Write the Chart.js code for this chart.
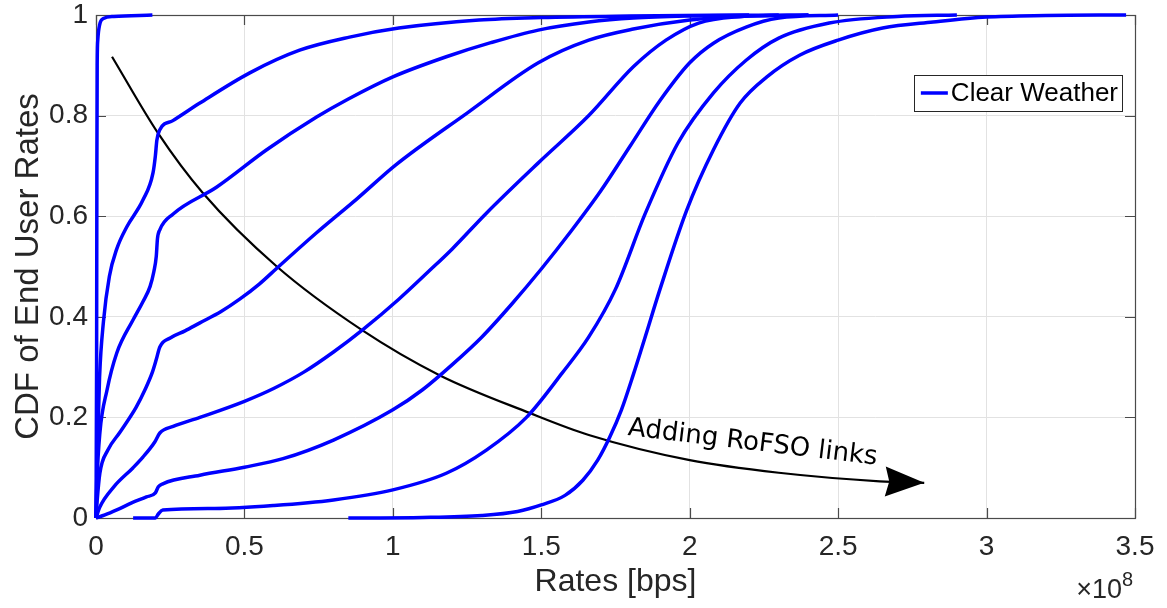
<!DOCTYPE html>
<html>
<head>
<meta charset="utf-8">
<script src="https://cdn.jsdelivr.net/npm/chart.js@4.4.0/dist/chart.umd.min.js"></script>
<style>
  html, body { margin: 0; padding: 0; background: #fff; }
  #wrap { width: 1167px; height: 608px; }
</style>
</head>
<body>
<div id="wrap"><canvas id="cdfChart" width="1167" height="608"></canvas></div>
<script>
// rates are stored in units of 1e8 bps, the axis carries the x10^8 multiplier
const rateTicks = [0, 0.5, 1, 1.5, 2, 2.5, 3, 3.5];
const cdfTicks = [0, 0.2, 0.4, 0.6, 0.8, 1];

// one CDF per number of RoFSO links, [rate, cdf]
const cdf1 = [[0, 0], [0.002, 0.3], [0.003, 0.7], [0.004, 0.9], [0.006, 0.95], [0.012, 0.98],
  [0.025, 0.993], [0.06, 0.997], [0.19, 1]];
const cdf2 = [[0, 0], [0.004, 0.12], [0.012, 0.28], [0.025, 0.39], [0.045, 0.48], [0.07, 0.535],
  [0.104, 0.579], [0.158, 0.632], [0.192, 0.686], [0.2, 0.72], [0.205, 0.751], [0.215, 0.772],
  [0.259, 0.79], [0.35, 0.825], [0.518, 0.885], [0.686, 0.93], [0.854, 0.956], [1.02, 0.974],
  [1.29, 0.99], [1.5, 0.995], [1.8, 0.998], [2.2, 1]];
const cdf3 = [[0, 0], [0.003, 0.07], [0.013, 0.169], [0.037, 0.254], [0.07, 0.328], [0.125, 0.394],
  [0.158, 0.43], [0.182, 0.46], [0.195, 0.49], [0.203, 0.52], [0.207, 0.555], [0.215, 0.573],
  [0.259, 0.604], [0.407, 0.658], [0.575, 0.732], [0.743, 0.797], [0.85, 0.833], [1.0, 0.877],
  [1.18, 0.917], [1.33, 0.945], [1.49, 0.97], [1.66, 0.986], [1.81, 0.994], [2.0, 0.998], [2.3, 1]];
const cdf4 = [[0, 0], [0.004, 0.035], [0.013, 0.089], [0.04, 0.135], [0.08, 0.17], [0.135, 0.22],
  [0.165, 0.255], [0.19, 0.29], [0.203, 0.315], [0.215, 0.34], [0.25, 0.358], [0.3, 0.372],
  [0.35, 0.388], [0.42, 0.41], [0.484, 0.435], [0.55, 0.465], [0.61, 0.497], [0.743, 0.567],
  [0.88, 0.635], [1.01, 0.702], [1.25, 0.805], [1.49, 0.905], [1.66, 0.95], [1.81, 0.972],
  [2.0, 0.99], [2.2, 0.998], [2.4, 1]];
const cdf5 = [[0, 0], [0.013, 0.022], [0.06, 0.062], [0.125, 0.1], [0.158, 0.121], [0.198, 0.151],
  [0.215, 0.169], [0.26, 0.182], [0.35, 0.2], [0.5, 0.232], [0.6, 0.258], [0.7, 0.29],
  [0.8, 0.33], [0.9, 0.375], [1.02, 0.435], [1.12, 0.49], [1.2, 0.535], [1.315, 0.606],
  [1.49, 0.706], [1.66, 0.8], [1.81, 0.897], [1.92, 0.95], [2.03, 0.984], [2.15, 0.996], [2.4, 1]];
const cdf6 = [[0, 0], [0.03, 0.006], [0.07, 0.016], [0.12, 0.03], [0.17, 0.042], [0.2, 0.05],
  [0.21, 0.062], [0.225, 0.068], [0.35, 0.085], [0.5, 0.101], [0.63, 0.118], [0.8, 0.155],
  [1.0, 0.215], [1.1, 0.255], [1.2, 0.305], [1.3, 0.36], [1.4, 0.425], [1.5, 0.495],
  [1.6, 0.57], [1.7, 0.65], [1.8, 0.74], [1.9, 0.83], [2.0, 0.905], [2.08, 0.944],
  [2.19, 0.976], [2.3, 0.994], [2.5, 1]];
const cdf7 = [[0.125, 0], [0.2, 0], [0.21, 0.008], [0.225, 0.016], [0.4, 0.019], [0.6, 0.025],
  [0.8, 0.036], [1.0, 0.056], [1.18, 0.089], [1.315, 0.135], [1.45, 0.2], [1.57, 0.288],
  [1.66, 0.36], [1.75, 0.455], [1.85, 0.605], [1.96, 0.745], [2.08, 0.845],
  [2.19, 0.91], [2.3, 0.954], [2.47, 0.984], [2.7, 0.997], [2.9, 1]];
const cdf8 = [[0.85, 0], [1.1, 0.001], [1.3, 0.005], [1.42, 0.013], [1.5, 0.026], [1.58, 0.045],
  [1.64, 0.075], [1.69, 0.115], [1.73, 0.16], [1.77, 0.215], [1.81, 0.285], [1.85, 0.36],
  [1.9, 0.455], [1.99, 0.612], [2.08, 0.732], [2.17, 0.825], [2.26, 0.877],
  [2.37, 0.92], [2.5, 0.95], [2.65, 0.974], [2.82, 0.986], [3.0, 0.996], [3.2, 0.999], [3.47, 1]];

// trend arrow drawn across the curves
const trendArrow = [[0.054, 0.917], [0.209, 0.765], [0.36, 0.646], [0.609, 0.5], [0.895, 0.374],
  [1.157, 0.284], [1.46, 0.209], [1.66, 0.165], [2.0, 0.115], [2.3, 0.09], [2.64, 0.073], [2.79, 0.07]];

const cdfCurves = [cdf1, cdf2, cdf3, cdf4, cdf5, cdf6, cdf7, cdf8];

const AXIS_FONT = "'Liberation Sans', Arial, Helvetica, sans-serif";
const AXIS_COLOR = '#262626';

const toPoints = arr => arr.map(([x, y]) => ({ x, y }));

const datasets = cdfCurves.map((c, i) => ({
  label: i === 0 ? 'Clear Weather' : 'Clear Weather ' + (i + 1),
  data: toPoints(c),
  borderColor: '#0000ff',
  borderWidth: 3.5,
  pointRadius: 0,
  cubicInterpolationMode: 'monotone',
  clip: 5,
  fill: false
}));
datasets.push({
  label: 'arrow',
  data: toPoints(trendArrow),
  borderColor: '#000000',
  borderWidth: 2.2,
  pointRadius: 0,
  cubicInterpolationMode: 'monotone',
  fill: false
});

// box around the axes with inward tick marks on all four sides
const axesBox = {
  id: 'axesBox',
  beforeDatasetsDraw(chart) {
    const { ctx, chartArea: a, scales: { x, y } } = chart;
    ctx.save();
    ctx.strokeStyle = '#4a4a4a';
    ctx.lineWidth = 1.2;
    ctx.strokeRect(a.left + 0.5, a.top + 0.5, a.right - a.left, a.bottom - a.top);
    ctx.beginPath();
    const len = 10;
    x.ticks.forEach(t => {
      const px = Math.round(x.getPixelForValue(t.value)) + 0.5;
      ctx.moveTo(px, a.bottom); ctx.lineTo(px, a.bottom - len);
      ctx.moveTo(px, a.top); ctx.lineTo(px, a.top + len);
    });
    y.ticks.forEach(t => {
      const py = Math.round(y.getPixelForValue(t.value)) + 0.5;
      ctx.moveTo(a.left, py); ctx.lineTo(a.left + len, py);
      ctx.moveTo(a.right, py); ctx.lineTo(a.right - len, py);
    });
    ctx.stroke();
    ctx.restore();
  }
};

// arrowhead, label on the arrow, legend box and the exponent label
const extras = {
  id: 'extras',
  afterDatasetsDraw(chart) {
    const { ctx, chartArea: a, scales: { x, y } } = chart;
    const arrowMeta = chart.getDatasetMeta(cdfCurves.length);
    const pts = arrowMeta.data;
    const tip = pts[pts.length - 1];
    const prev = pts[pts.length - 2];
    const ang = Math.atan2(tip.y - prev.y, tip.x - prev.x);
    ctx.save();
    ctx.translate(tip.x, tip.y);
    ctx.rotate(ang);
    ctx.fillStyle = '#000';
    ctx.beginPath();
    ctx.moveTo(0, 0);
    ctx.lineTo(-39, -15);
    ctx.lineTo(-35, 0);
    ctx.lineTo(-39, 15);
    ctx.closePath();
    ctx.fill();
    ctx.restore();

    // label along the arrow
    ctx.save();
    ctx.translate(x.getPixelForValue(1.79), y.getPixelForValue(0.165));
    ctx.rotate(6.8 * Math.PI / 180);
    ctx.font = "26px 'DejaVu Sans', sans-serif";
    ctx.fillStyle = '#000';
    ctx.textBaseline = 'alphabetic';
    ctx.textAlign = 'left';
    ctx.fillText('Adding RoFSO links', 0, 0);
    ctx.restore();

    // legend
    const label = chart.data.datasets[0].label;
    ctx.save();
    ctx.font = '26px ' + AXIS_FONT;
    const tw = ctx.measureText(label).width;
    const bw = 7 + 27 + 3 + tw + 4, bh = 36;
    const bx = a.right - 13 - bw, by = a.top + 60;
    ctx.fillStyle = '#fff';
    ctx.fillRect(bx, by, bw, bh);
    ctx.strokeStyle = AXIS_COLOR;
    ctx.lineWidth = 1;
    ctx.strokeRect(Math.round(bx) + 0.5, by + 0.5, Math.round(bw), bh);
    ctx.strokeStyle = '#0000ff';
    ctx.lineWidth = 3.5;
    ctx.beginPath();
    ctx.moveTo(bx + 7, by + bh / 2);
    ctx.lineTo(bx + 34, by + bh / 2);
    ctx.stroke();
    ctx.fillStyle = '#000';
    ctx.textBaseline = 'middle';
    ctx.fillText(label, bx + 37, by + bh / 2 + 1);
    ctx.restore();
  },
  afterDraw(chart) {
    const { ctx, chartArea: a } = chart;
    ctx.save();
    ctx.fillStyle = AXIS_COLOR;
    ctx.textBaseline = 'alphabetic';
    ctx.textAlign = 'right';
    ctx.font = '27px ' + AXIS_FONT;
    ctx.fillText('\u00d710', a.right - 13, 598);
    ctx.textAlign = 'left';
    ctx.font = '20px ' + AXIS_FONT;
    ctx.fillText('8', a.right - 13, 586);
    ctx.restore();
  }
};

new Chart(document.getElementById('cdfChart'), {
  type: 'line',
  data: { datasets },
  options: {
    responsive: false,
    animation: false,
    devicePixelRatio: 1,
    layout: { padding: { left: 0, right: 32, top: 15, bottom: 0 } },
    plugins: { legend: { display: false }, tooltip: { enabled: false } },
    scales: {
      x: {
        type: 'linear',
        min: 0,
        max: 3.5,
        afterBuildTicks: s => { s.ticks = rateTicks.map(v => ({ value: v })); },
        afterFit: s => { s.height = 90; s.paddingLeft = 0; s.paddingRight = 0; },
        grid: { color: '#e2e2e2', lineWidth: 1, drawTicks: false },
        border: { display: false },
        ticks: {
          color: AXIS_COLOR,
          font: { family: AXIS_FONT, size: 28, lineHeight: 1 },
          padding: 15,
          maxRotation: 0,
          autoSkip: false,
          callback: v => String(v)
        },
        title: {
          display: true,
          text: 'Rates [bps]',
          color: AXIS_COLOR,
          font: { family: AXIS_FONT, size: 32, lineHeight: 1 },
          padding: { top: 0, bottom: 10 }
        }
      },
      y: {
        type: 'linear',
        min: 0,
        max: 1,
        afterBuildTicks: s => { s.ticks = cdfTicks.map(v => ({ value: v })); },
        afterFit: s => { s.width = 96; s.paddingTop = 0; s.paddingBottom = 0; },
        grid: { color: '#e2e2e2', lineWidth: 1, drawTicks: false },
        border: { display: false },
        ticks: {
          color: AXIS_COLOR,
          font: { family: AXIS_FONT, size: 28, lineHeight: 1 },
          padding: 8,
          callback: v => String(v)
        },
        title: {
          display: true,
          text: 'CDF of End User Rates',
          color: AXIS_COLOR,
          font: { family: AXIS_FONT, size: 33, lineHeight: 1 },
          padding: { top: 12, bottom: 0 }
        }
      }
    }
  },
  plugins: [axesBox, extras]
});
</script>
</body>
</html>
